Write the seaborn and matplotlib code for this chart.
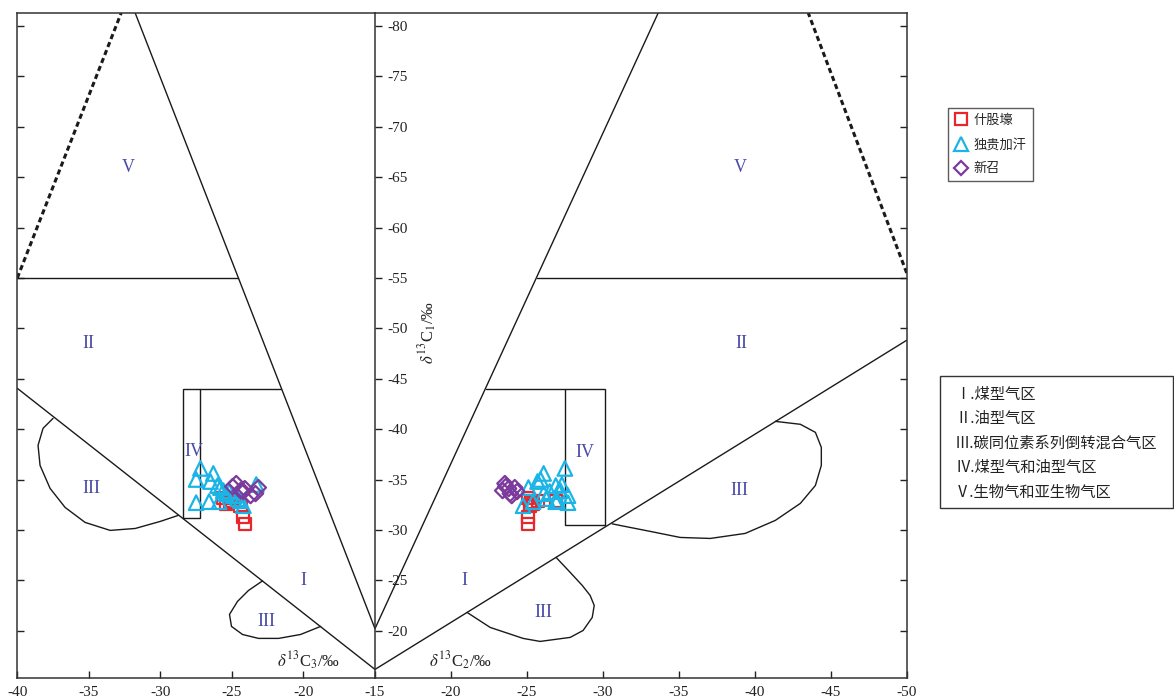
import matplotlib
matplotlib.use("Agg")
import numpy as np
import pandas as pd
import matplotlib.pyplot as plt
import seaborn as sns
from matplotlib.lines import Line2D
from matplotlib.patches import Rectangle

# ---- gas samples: methane, ethane, propane carbon isotopes (per mil) ----
shigu_c1 = [-33.2, -32.9, -32.6, -32.4, -32.9, -31.3, -30.6, -32.8]
shigu_c3 = [-25.6, -25.0, -25.4, -24.4, -24.6, -24.2, -24.1, -25.1]
shigu_c2 = [-25.1, -25.7, -25.4, -25.2, -26.9, -25.1, -25.1, -25.3]

dugui_c1 = [-36.1, -35.6, -35.0, -34.8, -34.4, -34.2, -33.9, -33.8, -33.6,
            -33.4, -33.1, -32.9, -32.8, -32.7, -32.4, -34.5, -32.8]
dugui_c3 = [-27.2, -26.3, -27.5, -26.5, -26.0, -25.8, -25.6, -25.2, -25.4,
            -24.9, -24.6, -24.4, -26.6, -27.5, -24.2, -23.3, -25.9]
dugui_c2 = [-27.5, -26.1, -25.9, -25.7, -26.9, -25.1, -27.2, -26.5, -26.1,
            -27.7, -26.3, -27.0, -25.4, -27.7, -24.75, -27.3, -26.9]

xinzhao_c1 = [-34.6, -34.3, -34.2, -34.1, -33.8, -33.6, -33.4, -33.9]
xinzhao_c3 = [-24.7, -24.95, -23.15, -24.1, -24.2, -23.35, -23.7, -24.4]
xinzhao_c2 = [-23.55, -23.6, -24.2, -23.8, -24.35, -23.9, -24.0, -23.4]

group_names = ["什股壕", "独贵加汗", "新召"]
group_colors = ["#e8262c", "#1bb4e6", "#7b3a9c"]
group_markers = ["s", "^", "D"]

# ---- zone boundaries, δ13C3 side (x = δ13C3, y = δ13C1) ----
l_dash_x, l_dash_y = [-40.0, -32.74], [-55.0, -81.3]
l_upper_x, l_upper_y = [-15.0, -31.76], [-20.2, -81.3]
l_h55_x, l_h55_y = [-40.0, -24.57], [-55.0, -55.0]
l_lower_x, l_lower_y = [-40.0, -15.0], [-44.05, -16.15]
l_h44_x, l_h44_y = [-27.2, -21.56], [-44.0, -44.0]
l_box_x, l_box_y = [-28.4, -27.2], [-44.0, -31.2]
l_lobe_x = [-37.50, -38.20, -38.55, -38.41, -37.71, -36.66, -35.26, -33.51,
            -31.76, -30.01, -28.75]
l_lobe_y = [-41.07, -40.08, -38.39, -36.40, -34.12, -32.23, -30.74, -29.95,
            -30.14, -30.84, -31.44]
l_lobe2_x = [-22.86, -23.84, -24.61, -25.17, -25.03, -24.26, -23.14, -21.74,
             -20.20, -18.80]
l_lobe2_y = [-24.94, -23.99, -22.90, -21.61, -20.42, -19.62, -19.23, -19.23,
             -19.62, -20.42]

# ---- zone boundaries, δ13C2 side (x = δ13C2, y = δ13C1) ----
r_dash_x, r_dash_y = [-50.0, -43.52], [-55.5, -81.3]
r_upper_x, r_upper_y = [-15.0, -33.64], [-20.2, -81.3]
r_h55_x, r_h55_y = [-25.64, -50.0], [-55.0, -55.0]
r_lower_x, r_lower_y = [-15.0, -50.0], [-16.15, -48.82]
r_h44_x, r_h44_y = [-22.30, -27.52], [-44.0, -44.0]
r_box_x, r_box_y = [-27.52, -30.15], [-44.0, -30.45]
r_lobe_x = [-41.35, -43.00, -43.99, -44.38, -44.38, -43.99, -43.00, -41.35,
            -39.37, -37.07, -35.09, -33.12, -31.47, -30.61]
r_lobe_y = [-40.77, -40.48, -39.68, -38.19, -36.40, -34.41, -32.63, -30.94,
            -29.65, -29.15, -29.25, -29.85, -30.34, -30.60]
r_lobe2_x = [-21.06, -22.58, -24.75, -25.87, -27.85, -28.70, -29.30, -29.43,
             -29.16, -28.64, -27.85, -26.92]
r_lobe2_y = [-21.81, -20.32, -19.23, -18.93, -19.33, -20.02, -21.31, -22.50,
             -23.50, -24.49, -25.78, -27.27]

# zone numerals
l_zone_text = ["V", "II", "III", "IV", "I", "III"]
l_zone_x = [-32.24, -35.04, -34.83, -27.69, -20.0, -22.59]
l_zone_y = [-66.0, -48.5, -34.1, -37.8, -25.0, -20.95]
r_zone_text = ["V", "II", "III", "IV", "I", "III"]
r_zone_x = [-39.05, -39.11, -38.98, -28.83, -20.86, -26.07]
r_zone_y = [-66.0, -48.5, -33.9, -37.7, -25.0, -21.8]

zone_legend = ["Ⅰ.煤型气区", "Ⅱ.油型气区", "Ⅲ.碳同位素系列倒转混合气区",
               "Ⅳ.煤型气和油型气区", "Ⅴ.生物气和亚生物气区"]

y_ticks = [-80, -75, -70, -65, -60, -55, -50, -45, -40, -35, -30, -25, -20]
xl_ticks = [-40, -35, -30, -25, -20, -15]
xr_ticks = [-20, -25, -30, -35, -40, -45, -50]

# ---------------------------------------------------------------------------
sns.set_style("white")
plt.rcParams["font.family"] = ["Liberation Serif", "DejaVu Serif"]
plt.rcParams["mathtext.fontset"] = "stix"

W, H = 1174, 700
fig = plt.figure(figsize=(W / 100, H / 100), dpi=100)

x0, xm, x1 = 17.3, 375.0, 906.7
ytop, ybot = 13.0, 678.0
axL = fig.add_axes([x0 / W, 1 - ybot / H, (xm - x0) / W, (ybot - ytop) / H])
axR = fig.add_axes([xm / W, 1 - ybot / H, (x1 - xm) / W, (ybot - ytop) / H])
axR.patch.set_visible(False)

ylim = (-15.3, -81.3)
axL.set_xlim(-40, -15)
axR.set_xlim(-15, -50)
for ax in (axL, axR):
    ax.set_ylim(*ylim)
    for s in ax.spines.values():
        s.set_color("#333333")
        s.set_linewidth(1.1)

line_kw = dict(color="#1a1a1a", lw=1.0)
dash_kw = dict(color="#1a1a1a", lw=2.2, ls=(0, (1.7, 1.1)))

# left (δ13C3) template
axL.plot(l_dash_x, l_dash_y, **dash_kw)
for xs, ys in [(l_upper_x, l_upper_y), (l_h55_x, l_h55_y), (l_lower_x, l_lower_y),
               (l_h44_x, l_h44_y), (l_lobe_x, l_lobe_y), (l_lobe2_x, l_lobe2_y)]:
    axL.plot(xs, ys, **line_kw)
axL.add_patch(Rectangle((l_box_x[0], l_box_y[0]), l_box_x[1] - l_box_x[0],
                        l_box_y[1] - l_box_y[0], fill=False, ec="#1a1a1a", lw=1.0))

# right (δ13C2) template
axR.plot(r_dash_x, r_dash_y, **dash_kw)
for xs, ys in [(r_upper_x, r_upper_y), (r_h55_x, r_h55_y), (r_lower_x, r_lower_y),
               (r_h44_x, r_h44_y), (r_lobe_x, r_lobe_y), (r_lobe2_x, r_lobe2_y)]:
    axR.plot(xs, ys, **line_kw)
axR.add_patch(Rectangle((r_box_x[0], r_box_y[0]), r_box_x[1] - r_box_x[0],
                        r_box_y[1] - r_box_y[0], fill=False, ec="#1a1a1a", lw=1.0))

zone_color = "#4a4aa8"
for t, x, y in zip(l_zone_text, l_zone_x, l_zone_y):
    axL.text(x, y, t, color=zone_color, fontsize=13, ha="center", va="center")
for t, x, y in zip(r_zone_text, r_zone_x, r_zone_y):
    axR.text(x, y, t, color=zone_color, fontsize=13, ha="center", va="center")

# samples
groups = [
    (shigu_c1, shigu_c2, shigu_c3),
    (dugui_c1, dugui_c2, dugui_c3),
    (xinzhao_c1, xinzhao_c2, xinzhao_c3),
]
sizes = [75, 110, 60]
for (c1, c2, c3), name, col, mk, sz in zip(groups, group_names, group_colors,
                                             group_markers, sizes):
    df = pd.DataFrame({"c1": c1, "c2": c2, "c3": c3})
    sns.scatterplot(data=df, x="c3", y="c1", ax=axL, marker=mk, s=sz,
                    color=col, facecolors="none", edgecolor=col, linewidth=1.6,
                    zorder=5)
    sns.scatterplot(data=df, x="c2", y="c1", ax=axR, marker=mk, s=sz,
                    color=col, facecolors="none", edgecolor=col, linewidth=1.6,
                    zorder=5)

for ax in (axL, axR):
    ax.set_xlabel("")
    ax.set_ylabel("")

# ticks
tick_kw = dict(labelsize=11, colors="#222222", labelcolor="#222222",
               length=5, width=1.0)
axL.set_xticks(xl_ticks)
axL.set_xticklabels([str(v) for v in xl_ticks])
axR.set_xticks(xr_ticks)
axR.set_xticklabels([str(v) for v in xr_ticks])
axL.tick_params(axis="x", direction="in", bottom=True, top=False, pad=6, **tick_kw)
axR.tick_params(axis="x", direction="in", bottom=True, top=False, pad=6, **tick_kw)

axL.set_yticks(y_ticks)
axL.set_yticklabels([str(v) for v in y_ticks])
axL.tick_params(axis="y", direction="in", left=True, right=False,
                labelleft=False, labelright=True, pad=9, **tick_kw)
axR.set_yticks(y_ticks)
axR.tick_params(axis="y", direction="in", left=True, right=True,
                labelleft=False, labelright=False, **tick_kw)
axL.spines["right"].set_visible(False)

# axis titles
lab_kw = dict(fontsize=12, color="#222222")
axL.text(0.813, 0.026, r"$\delta^{13}$C$_3$/‰", transform=axL.transAxes,
         ha="center", va="center", **lab_kw)
axR.text(0.16, 0.026, r"$\delta^{13}$C$_2$/‰", transform=axR.transAxes,
         ha="center", va="center", **lab_kw)
axR.text(0.10, 0.52, r"$\delta^{13}$C$_1$/‰", transform=axR.transAxes,
         ha="center", va="center", rotation=90, **lab_kw)

# sample legend
cjk = ["Noto Sans CJK SC", "DejaVu Sans"]
handles = [Line2D([], [], ls="none", marker=m, mfc="none", mec=c, mew=1.6,
                  ms={"s": 8, "^": 10, "D": 7.5}[m])
           for m, c in zip(group_markers, group_colors)]
leg = fig.legend(handles, group_names, loc="upper left",
                 bbox_to_anchor=(948 / W, 1 - 108 / H),
                 frameon=True, fancybox=False, edgecolor="#333333",
                 borderpad=0.45, handlelength=1.0, handletextpad=0.5,
                 labelspacing=0.85, borderaxespad=0,
                 prop={"family": cjk, "size": 9.5})
leg.get_frame().set_linewidth(1.0)

# zone legend box
fig.patches.append(Rectangle((940 / W, 1 - 508 / H), (1173 - 940) / W,
                             (508 - 376) / H, transform=fig.transFigure,
                             fill=False, ec="#333333", lw=1.0))
for i, t in enumerate(zone_legend):
    fig.text(955 / W, 1 - (394 + 24.5 * i) / H, t, ha="left", va="center",
             family=cjk, fontsize=11, color="#222222")

fig.savefig("out.png", dpi=100)
